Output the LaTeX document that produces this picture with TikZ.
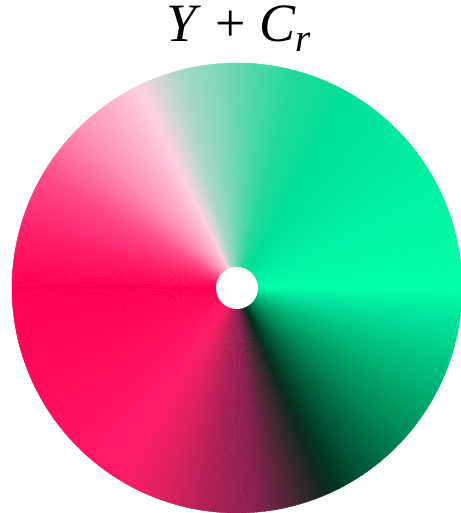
\documentclass[tikz,border=0pt]{standalone}
\usepackage{fontspec}
\setmainfont{Liberation Serif}
\usepackage{tikz}

% colour stops of the wheel (angle in degrees, counter-clockwise from east)
\definecolor{s000}{HTML}{00FFAA}
\definecolor{s030}{HTML}{00F0A2}
\definecolor{s060}{HTML}{00E098}
\definecolor{s075}{HTML}{20DA9C}
\definecolor{s085}{HTML}{4CD8A8}
\definecolor{s095}{HTML}{80D8B8}
\definecolor{s105}{HTML}{A8D8C8}
\definecolor{s110}{HTML}{D0D6D4}
\definecolor{s113}{HTML}{E8D4DC}
\definecolor{s116}{HTML}{FFD0E0}
\definecolor{s125}{HTML}{FFB0CC}
\definecolor{s135}{HTML}{FF90B4}
\definecolor{s150}{HTML}{FF4A88}
\definecolor{s165}{HTML}{FF2068}
\definecolor{s180}{HTML}{FF0050}
\definecolor{s200}{HTML}{FF0858}
\definecolor{s230}{HTML}{FF1864}
\definecolor{s240}{HTML}{F81C64}
\definecolor{s250}{HTML}{E0205E}
\definecolor{s262}{HTML}{B02055}
\definecolor{s275}{HTML}{8A2050}
\definecolor{s285}{HTML}{442830}
\definecolor{s293}{HTML}{102820}
\definecolor{s297}{HTML}{003822}
\definecolor{s305}{HTML}{005A3A}
\definecolor{s320}{HTML}{00905A}
\definecolor{s335}{HTML}{00B878}
\definecolor{s350}{HTML}{00E098}

\tikzset{
  wedge/.style={fill=wedgecol, draw=wedgecol, line width=0.4pt},
  hole/.style={circle, fill=white, inner sep=0pt, minimum size=42pt},
  heading/.style={font=\fontsize{54}{54}\selectfont, anchor=base, inner sep=0pt}
}
\newcommand{\wheelradius}{225}

\begin{document}
\begin{tikzpicture}[x=1pt, y=1pt]
    % page frame: 460 x 513, wheel hub 237 from the left, 288 from the top
    \useasboundingbox[fill=white] (-237,-225) rectangle (223,288);

    % 1. Rueda de color
    \coordinate (hub) at (0,0);
    \foreach \angA/\angB/\colA/\colB in {
        0/30/s000/s030, 30/60/s030/s060, 60/75/s060/s075, 75/85/s075/s085,
        85/95/s085/s095, 95/105/s095/s105, 105/110/s105/s110, 110/113/s110/s113,
        113/116/s113/s116, 116/125/s116/s125, 125/135/s125/s135, 135/150/s135/s150,
        150/165/s150/s165, 165/180/s165/s180, 180/200/s180/s200, 200/230/s200/s230,
        230/240/s230/s240, 240/250/s240/s250, 250/262/s250/s262, 262/275/s262/s275,
        275/285/s275/s285, 285/293/s285/s293, 293/297/s293/s297, 297/305/s297/s305,
        305/320/s305/s320, 320/335/s320/s335, 335/350/s335/s350, 350/360/s350/s000} {
        \pgfmathtruncatemacro{\n}{\angB-\angA}
        \foreach \k in {1,...,\n} {
            \pgfmathsetmacro{\p}{100*(\k-0.5)/\n}
            \pgfmathsetmacro{\a}{\angA+\k-1}
            \colorlet{wedgecol}{\colB!\p!\colA}
            \path[wedge] (hub) -- ++(\a:\wheelradius)
                arc[start angle=\a, end angle=\a+1.05, radius=\wheelradius] -- cycle;
        }
    }

    % 2. Agujero central
    \node[hole] (center) at (hub) {};

    % 3. Titulo
    \node[heading] (title) at (2,246) {\textit{Y} + \textit{C}\raisebox{-0.17em}{\fontsize{39}{39}\selectfont\textit{r}}};
\end{tikzpicture}
\end{document}
